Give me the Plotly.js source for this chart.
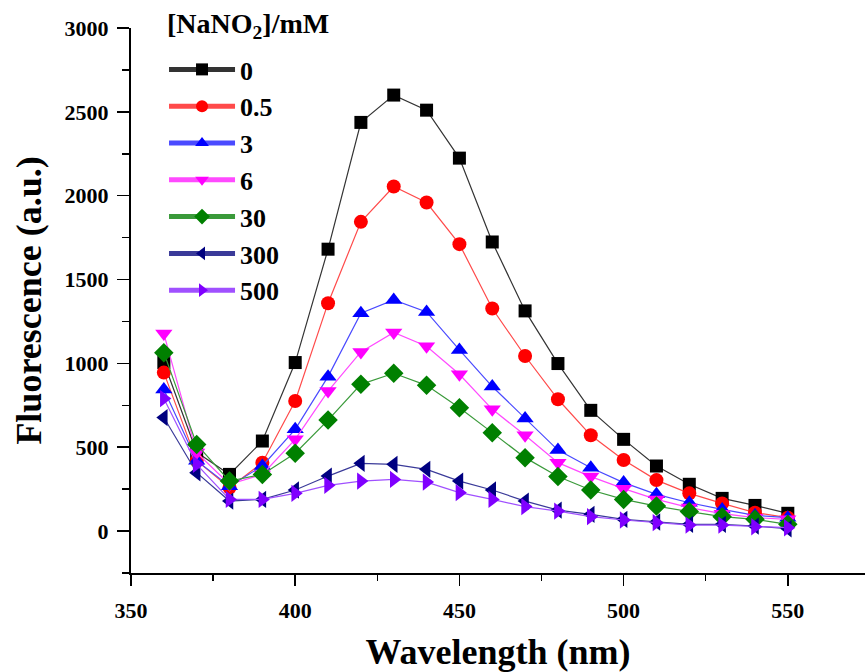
<!DOCTYPE html>
<html>
<head>
<meta charset="utf-8">
<script src="https://cdn.plot.ly/plotly-3.0.1.min.js"></script>
<style>html,body{margin:0;padding:0;background:#fff;}#chart{width:865px;height:672px;}</style>
</head>
<body>
<div id="chart"></div>
<script>
const wavelength = [360,370,380,390,400,410,420,430,440,450,460,470,480,490,500,510,520,530,540,550];
const seriesNames = ['0','0.5','3','6','30','300','500'];
const legendTitle = '[NaNO<sub>2</sub>]/mM';
const conc0   = [1005,470,338,537,1005,1681,2437,2600,2510,2224,1724,1313,999,720,547,388,279,195,153,106];
const conc0_5 = [945,420,259,408,776,1359,1844,2055,1959,1711,1327,1044,786,571,424,304,225,165,110,80];
const conc3   = [845,420,268,388,607,921,1299,1378,1307,1080,862,671,483,378,289,219,169,129,94,80];
const conc6   = [1178,468,279,338,547,835,1068,1184,1102,935,726,571,408,325,253,189,140,104,80,70];
const conc30  = [1064,517,298,338,464,662,875,941,869,736,587,438,325,245,189,149,116,86,70,40];
const conc300 = [677,348,179,189,245,328,404,398,368,298,245,179,125,100,70,54,40,40,30,14];
const conc500 = [790,398,189,189,225,273,298,308,292,229,189,146,119,86,66,50,36,36,26,20];
const xTicks = [350,400,450,500,550];
const yTicks = [0,500,1000,1500,2000,2500,3000];

const allSeries = [conc0,conc0_5,conc3,conc6,conc30,conc300,conc500];
const colors = ['#000000','#ff0000','#0000ff','#ff00ff','#008000','#000080','#8000ff'];
const lineColors = ['#333333','#ff4a4a','#4a4aff','#ff4aff','#3a9a3a','#3a3a99','#a050ff'];
const symbols = ['square','circle','triangle-up','triangle-down','diamond','triangle-left','triangle-right'];
const sizes = [13,14,15,15,15,15,15];

const font = 'Liberation Serif, Times New Roman, serif';
const traces = allSeries.map((ys,i)=>({
  x: wavelength, y: ys, name: seriesNames[i], type:'scatter', mode:'lines+markers',
  line:{color: lineColors[i], width:1.2},
  marker:{symbol: symbols[i], color: colors[i], size: sizes[i], line:{width:0}}
}));

const layout = {
  width:865, height:672,
  margin:{l:131, r:0, t:28, b:99},
  paper_bgcolor:'#fff', plot_bgcolor:'#fff',
  font:{family:font, color:'#000'},
  showlegend:true,
  legend:{
    x:0.045, y:0.967, xanchor:'left', yanchor:'top',
    bgcolor:'rgba(0,0,0,0)',
    font:{family:font, size:26, color:'#000', weight:'bold'},
    itemwidth:66,
    itemsizing:'constant'
  },
  annotations:[{
    text:'<b>'+legendTitle+'</b>', xref:'paper', yref:'paper',
    x:0.046, y:1.004, xanchor:'left', yanchor:'middle', showarrow:false,
    font:{family:font, size:28, color:'#000'}
  }],
  xaxis:{
    range:[350,573.5], tickvals:xTicks, ticktext:xTicks.map(String),
    showline:true, linewidth:2, linecolor:'#000', mirror:false,
    ticks:'outside', ticklen:11, tickwidth:1.5, tickcolor:'#000',
    minor:{dtick:25, tick0:350, ticks:'outside', ticklen:6, tickwidth:1.5, tickcolor:'#000'},
    showgrid:false, zeroline:false,
    tickfont:{family:font, size:22, color:'#000', weight:'bold'},
    ticklabelstandoff:6,
    title:{text:'<b>Wavelength (nm)</b>', font:{family:font, size:36, color:'#000'}, standoff:22}
  },
  yaxis:{
    range:[-250,3000], tickvals:yTicks, ticktext:yTicks.map(String),
    showline:true, linewidth:2, linecolor:'#000',
    ticks:'outside', ticklen:12, tickwidth:1.5, tickcolor:'#000',
    minor:{dtick:250, tick0:0, ticks:'outside', ticklen:7, tickwidth:1.5, tickcolor:'#000'},
    showgrid:false, zeroline:false,
    tickfont:{family:font, size:22, color:'#000', weight:'bold'},
    ticklabelstandoff:4,
    title:{text:'<b>Fluorescence (a.u.)</b>', font:{family:font, size:36, color:'#000'}, standoff:12}
  }
};
Plotly.newPlot('chart', traces, layout, {displayModeBar:false, staticPlot:true});
</script>
</body>
</html>
